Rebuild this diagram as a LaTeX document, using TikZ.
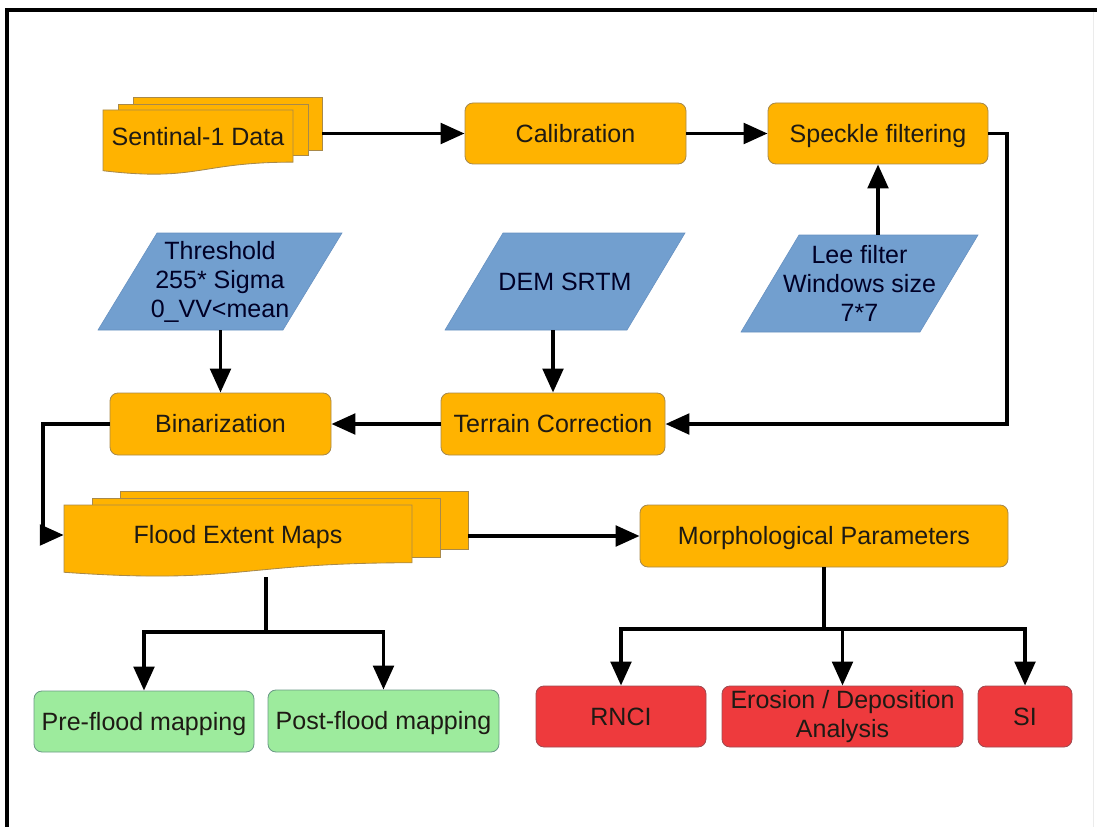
\documentclass[tikz,border=0pt]{standalone}
\usepackage{fontspec}
\setmainfont{Liberation Sans}
\usetikzlibrary{arrows.meta}

\newcommand{\pxu}{0.025cm}
\definecolor{boxorange}{HTML}{FFB300}
\definecolor{orangeline}{HTML}{A8894A}
\definecolor{boxblue}{HTML}{729FCF}
\definecolor{blueline}{HTML}{6690C0}
\definecolor{boxred}{HTML}{EE3A3D}
\definecolor{redline}{HTML}{A04A50}
\definecolor{boxgreen}{HTML}{9DEB9D}
\definecolor{greenline}{HTML}{6A9A86}
\definecolor{inktext}{HTML}{1E1A14}

% Blatt mit welligem Rand: x, y, Breite, Hoehe
\newcommand{\docsheet}[4]{%
  \draw[sheet] (#1,#2) -- ({#1+#3},#2) -- ({#1+#3},{#2+0.802*#4})
    .. controls ({#1+0.5*#3},{#2+0.802*#4}) and ({#1+0.5*#3},{#2+1.107*#4}) .. (#1,{#2+0.934*#4}) -- cycle;}

% Parallelogramm: Mitte x, Mitte y, Breite, Hoehe, Versatz
\newcommand{\paramsheet}[5]{%
  \draw[paramfill] ({#1-#3/2+#5/2},{#2-#4/2}) -- ({#1+#3/2+#5/2},{#2-#4/2})
    -- ({#1+#3/2-#5/2},{#2+#4/2}) -- ({#1-#3/2-#5/2},{#2+#4/2}) -- cycle;}

\tikzset{
  capcentre/.style={text height=12.75pt, text depth=0pt},
  basebox/.style={rectangle, rounded corners=0.2cm, line width=0.6pt, minimum height=61*\pxu,
    inner sep=0pt, text=inktext, align=center},
  proc/.style={basebox, capcentre, fill=boxorange, draw=orangeline},
  sheet/.style={fill=boxorange, draw=orangeline, line width=0.6pt},
  sheetbox/.style={rectangle, sheet, inner sep=0pt},
  paramfill/.style={fill=boxblue, draw=blueline, line width=0.4pt},
  paramtext/.style={minimum height=97*\pxu, inner sep=0pt, text=black!85!blue, align=center},
  result/.style={basebox, fill=boxred, draw=redline},
  mapbox/.style={proc, fill=boxgreen, draw=greenline},
  flow/.style={line width=2.8pt, -{Triangle[length=17pt,width=14.5pt]}},
  link/.style={line width=2.8pt}
}

\begin{document}
\begin{tikzpicture}[x=\pxu, y=-\pxu, font=\fontsize{17.8}{20.6}\selectfont]
    \useasboundingbox (0,0) rectangle (1097,827);

    % Rahmen.
    \draw[line width=2.8pt] (7,827) -- (7,10) -- (1097,10);
    \draw[black!8, line width=0.6pt] (1093,12) -- (1093,827);

    % Eingangsdaten.
    \node[sheetbox, minimum width=189*\pxu, minimum height=53*\pxu] (sentC) at (227.5,123.5) {};
    \node[sheetbox, minimum width=190*\pxu, minimum height=51*\pxu] (sentB) at (213,129.5) {};
    \docsheet{103}{110}{190}{65}
    \node[text=inktext, capcentre] (sent) at (198,137) {Sentinal-1 Data};

    % Vorverarbeitung.
    \node[proc, minimum width=221*\pxu] (cal) at (575.5,133.5) {Calibration};
    \node[proc, minimum width=220*\pxu] (speck) at (878,133.5) {Speckle filtering};
    \node[proc, minimum width=221*\pxu, minimum height=62*\pxu] (bin) at (220.5,424) {Binarization};
    \node[proc, minimum width=224*\pxu, minimum height=62*\pxu] (terr) at (553,424) {Terrain Correction};

    % Parameter.
    \paramsheet{220}{281.5}{185}{97}{59}
    \node[paramtext] (thr) at (220,281.5) {Threshold\\255* Sigma\\0\_VV<mean};
    \paramsheet{565}{281.5}{182}{97}{58}
    \node[paramtext] (dem) at (565,281.5) {DEM SRTM};
    \paramsheet{859.5}{283.5}{179}{97}{58}
    \node[paramtext] (lee) at (859.5,283.5) {Lee filter\\Windows size\\7*7};

    % Karten.
    \node[sheetbox, minimum width=348*\pxu, minimum height=58*\pxu] (floodC) at (294,520) {};
    \node[sheetbox, minimum width=348*\pxu, minimum height=59*\pxu] (floodB) at (266,527.5) {};
    \docsheet{64}{505}{348}{72}
    \node[text=inktext, capcentre, minimum width=348*\pxu, inner sep=0pt] (flood) at (238,535) {Flood Extent Maps};
    \coordinate (floodout) at (266,577);

    \node[proc, minimum width=368*\pxu, minimum height=62*\pxu] (morph) at (824,536) {Morphological Parameters};

    % Ergebnisse.
    \node[mapbox, minimum width=220*\pxu] (pre) at (144,721.5) {Pre-flood mapping};
    \node[mapbox, minimum width=231*\pxu, minimum height=62*\pxu] (post) at (383.5,721) {Post-flood mapping};
    \node[result, capcentre, minimum width=170*\pxu] (rnci) at (621,716.5) {RNCI};
    \node[result, minimum width=241*\pxu] (eros) at (842.5,716.5) {Erosion / Deposition\\Analysis};
    \node[result, capcentre, minimum width=94*\pxu] (si) at (1025,716.5) {SI};

    % Pfeile.
    \draw[flow] (sentC.east |- cal.west) -- (cal.west);
    \draw[flow] (cal.east) -- (speck.west);
    \draw[flow] (speck.south |- lee.north) -- (speck.south);
    \draw[flow] (speck.east) -- ++(19,0) |- (terr.east);
    \draw[flow] (terr.north |- dem.south) -- (terr.north);
    \draw[flow] (bin.north |- thr.south) -- (bin.north);
    \draw[flow] (terr.west) -- (bin.east);
    \draw[flow] (bin.west) -- ++(-67,0) |- (flood.west);
    \draw[flow] (floodC.east |- morph.west) -- (morph.west);

    \draw[link] (floodout) -- ++(0,55) coordinate (fsplit);
    \foreach \n in {pre,post}
        \draw[flow] (fsplit) -| (\n.north);

    \draw[link] (morph.south) -- ++(0,62) coordinate (msplit);
    \foreach \n in {rnci,eros,si}
        \draw[flow] (msplit) -| (\n.north);
\end{tikzpicture}
\end{document}
